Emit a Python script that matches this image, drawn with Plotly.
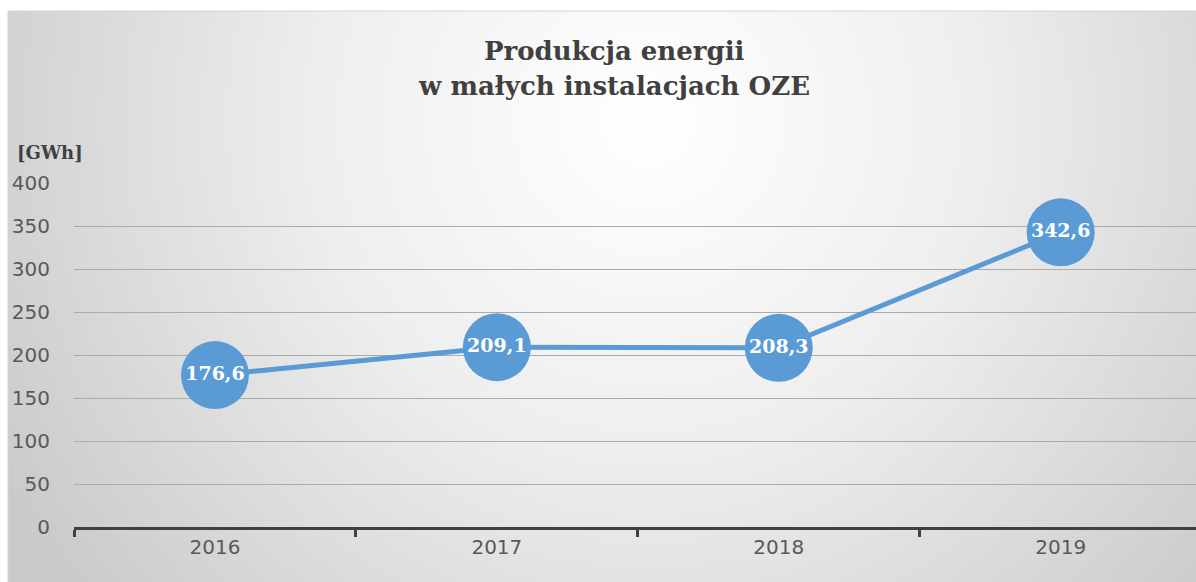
import base64
import plotly.graph_objects as go

years = ["2016", "2017", "2018", "2019"]
values = [176.6, 209.1, 208.3, 342.6]
labels = ["176,6", "209,1", "208,3", "342,6"]
y_ticks = [0, 50, 100, 150, 200, 250, 300, 350, 400]
title_lines = ["Produkcja energii", "w małych instalacjach OZE"]

W, H = 1196, 582
L, R, T, B = 74, 0, 183, 55
pw, ph = W - L - R, H - T - B

def px_to_paper_x(px):
    return (px - L) / pw

def px_to_paper_y(py):
    return (H - B - py) / ph

svg = """<svg xmlns='http://www.w3.org/2000/svg' width='1188' height='571' viewBox='0 0 1188 571' preserveAspectRatio='none'>
<defs><radialGradient id='g' gradientUnits='userSpaceOnUse' cx='640' cy='110' r='740' fx='640' fy='110'>
<stop offset='0' stop-color='#ffffff'/>
<stop offset='0.45' stop-color='#eeeeee'/>
<stop offset='1' stop-color='#cacaca'/>
</radialGradient></defs>
<rect x='0' y='0' width='1188' height='571' fill='url(#g)'/>
</svg>"""
src = "data:image/svg+xml;base64," + base64.b64encode(svg.encode()).decode()

fig = go.Figure()
fig.add_trace(go.Scatter(
    x=years, y=values, mode="lines+markers+text",
    line=dict(color="#5B9BD5", width=5),
    marker=dict(size=68, color="#5B9BD5"),
    text=labels, textposition="middle center",
    textfont=dict(family="DejaVu Serif", size=19, color="white", weight="bold"),
    hoverinfo="skip", showlegend=False, cliponaxis=False,
))

annotations = []
for line, py in zip(title_lines, [51, 86]):
    annotations.append(dict(
        text="<b>" + line + "</b>", xref="paper", yref="paper",
        x=px_to_paper_x(614), y=px_to_paper_y(py),
        xanchor="center", yanchor="middle", showarrow=False,
        font=dict(family="DejaVu Serif", size=26, color="#404040")))
annotations.append(dict(
    text="<b>[GWh]</b>", xref="paper", yref="paper",
    x=px_to_paper_x(15), y=px_to_paper_y(152),
    xanchor="left", yanchor="middle", showarrow=False,
    font=dict(family="DejaVu Serif", size=18, color="#404040")))

fig.update_layout(
    width=W, height=H,
    margin=dict(l=L, r=R, t=T, b=B),
    paper_bgcolor="white", plot_bgcolor="rgba(0,0,0,0)",
    images=[dict(source=src, xref="paper", yref="paper",
                 x=px_to_paper_x(8), y=px_to_paper_y(11),
                 sizex=(W - 8) / pw, sizey=(H - 11) / ph,
                 xanchor="left", yanchor="top", sizing="stretch", layer="below")],
    shapes=[dict(type="rect", xref="paper", yref="paper",
                 x0=px_to_paper_x(8), x1=px_to_paper_x(W + 2),
                 y0=px_to_paper_y(H + 2), y1=px_to_paper_y(11),
                 line=dict(color="#d4d4d4", width=1), layer="below")],
    annotations=annotations,
    xaxis=dict(
        type="category", range=[-0.5, 3.48],
        showgrid=False, showline=True, linecolor="#404040", linewidth=3,
        ticks="outside", tickson="boundaries", ticklen=7, tickwidth=3, tickcolor="#404040",
        tickfont=dict(family="DejaVu Sans", size=20, color="#595959"),
        fixedrange=True,
    ),
    yaxis=dict(
        range=[0, 400], tickvals=y_ticks, showgrid=True,
        gridcolor="#ababab", gridwidth=1, zeroline=False, showline=False,
        ticks="outside", ticklen=19, tickcolor="rgba(0,0,0,0)",
        tickfont=dict(family="DejaVu Sans", size=20, color="#595959"),
        fixedrange=True,
    ),
)

fig.write_html("out.html")
